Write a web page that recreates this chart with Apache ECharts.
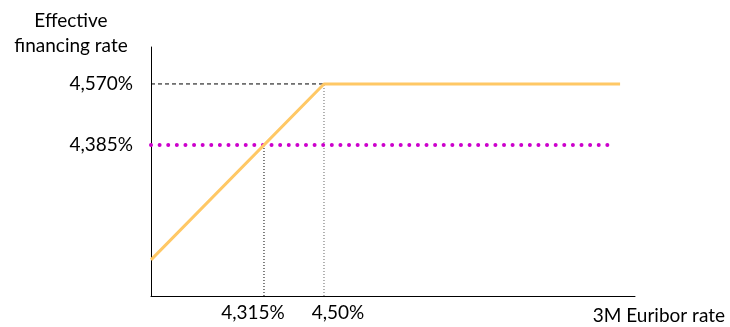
<!DOCTYPE html>
<html>
<head>
<meta charset="utf-8">
<script src="https://cdn.jsdelivr.net/npm/echarts@6/dist/echarts.min.js"></script>
<style>
  html, body { margin: 0; padding: 0; background: #fff; }
  #chart { width: 730px; height: 327px; }
</style>
</head>
<body>
<div id="chart"></div>
<script>
// axis ranges (percent)
const xRange = [3.9666, 5.459]
const yRange = [3.927, 4.682]

// tick positions and their labels
const xTicks = [4.315, 4.50]
const xTickLabels = ['4,315%', '4,50%']
const yTicks = [4.385, 4.570]
const yTickLabels = ['4,385%', '4,570%']

// effective rate: rises with euribor, capped at 4,570%
const rateX = [3.9666, 4.50, 5.413]
const rateY = [4.0366, 4.570, 4.570]

// fixed rate reference line
const fixedX = [3.9666, 5.376]
const fixedY = [4.385, 4.385]

const font = 'Lato, "Open Sans", sans-serif'

const c = echarts.init(document.getElementById('chart'))
c.setOption({
  animation: false,
  grid: { left: 151, right: 95, top: 47, bottom: 31 },
  xAxis: {
    type: 'value', min: xRange[0], max: xRange[1],
    splitLine: { show: false },
    axisLine: { lineStyle: { color: '#000', width: 1 } },
    axisTick: { show: false },
    axisLabel: {
      customValues: xTicks, margin: 7, color: '#000', fontSize: 19, fontFamily: font,
      formatter: v => {
        const i = xTicks.findIndex(t => Math.abs(t - v) < 1e-6)
        return '{' + (i === 0 ? 'a' : 'b') + '|' + xTickLabels[i] + '}'
      },
      rich: {
        a: { fontSize: 19, fontFamily: font, color: '#000', padding: [0, 22, 0, 0] },
        b: { fontSize: 19, fontFamily: font, color: '#000', padding: [0, 0, 0, 28] }
      }
    }
  },
  yAxis: {
    type: 'value', min: yRange[0], max: yRange[1],
    splitLine: { show: false },
    axisLine: { show: true, lineStyle: { color: '#000', width: 1 } },
    axisTick: { show: false },
    axisLabel: {
      customValues: yTicks, margin: 18, color: '#000', fontSize: 19, fontFamily: font,
      formatter: v => yTickLabels[yTicks.findIndex(t => Math.abs(t - v) < 1e-6)]
    }
  },
  graphic: [
    { type: 'text', x: 71, y: 8, style: { text: 'Effective\nfinancing rate', fill: '#000', font: '19px ' + font, textAlign: 'center', lineHeight: 25 } },
    { type: 'text', x: 725, y: 306, style: { text: '3M Euribor rate', fill: '#000', font: '19px ' + font, textAlign: 'right' } }
  ],
  series: [
    { // cap guide
      type: 'line', symbol: 'none', silent: true,
      data: [[xRange[0], yTicks[1]], [xTicks[1], yTicks[1]]],
      lineStyle: { color: '#000', width: 1, type: [4, 3] }
    },
    { // drop line at 4,315%
      type: 'line', symbol: 'none', silent: true,
      data: [[xTicks[0], yRange[0]], [xTicks[0], yTicks[0]]],
      lineStyle: { color: '#000', width: 1, type: [1, 2] }
    },
    { // drop line at 4,50%
      type: 'line', symbol: 'none', silent: true,
      data: [[xTicks[1], yRange[0]], [xTicks[1], yTicks[1]]],
      lineStyle: { color: '#666', width: 1, type: [1, 2] }
    },
    {
      type: 'line', symbol: 'none',
      data: fixedX.map((x, i) => [x, fixedY[i]]),
      lineStyle: { color: '#cc00cc', width: 4, type: [0.01, 8.6], cap: 'round' }
    },
    {
      type: 'line', symbol: 'none',
      data: rateX.map((x, i) => [x, rateY[i]]),
      lineStyle: { color: '#ffc865', width: 3 }
    }
  ]
})
</script>
</body>
</html>
